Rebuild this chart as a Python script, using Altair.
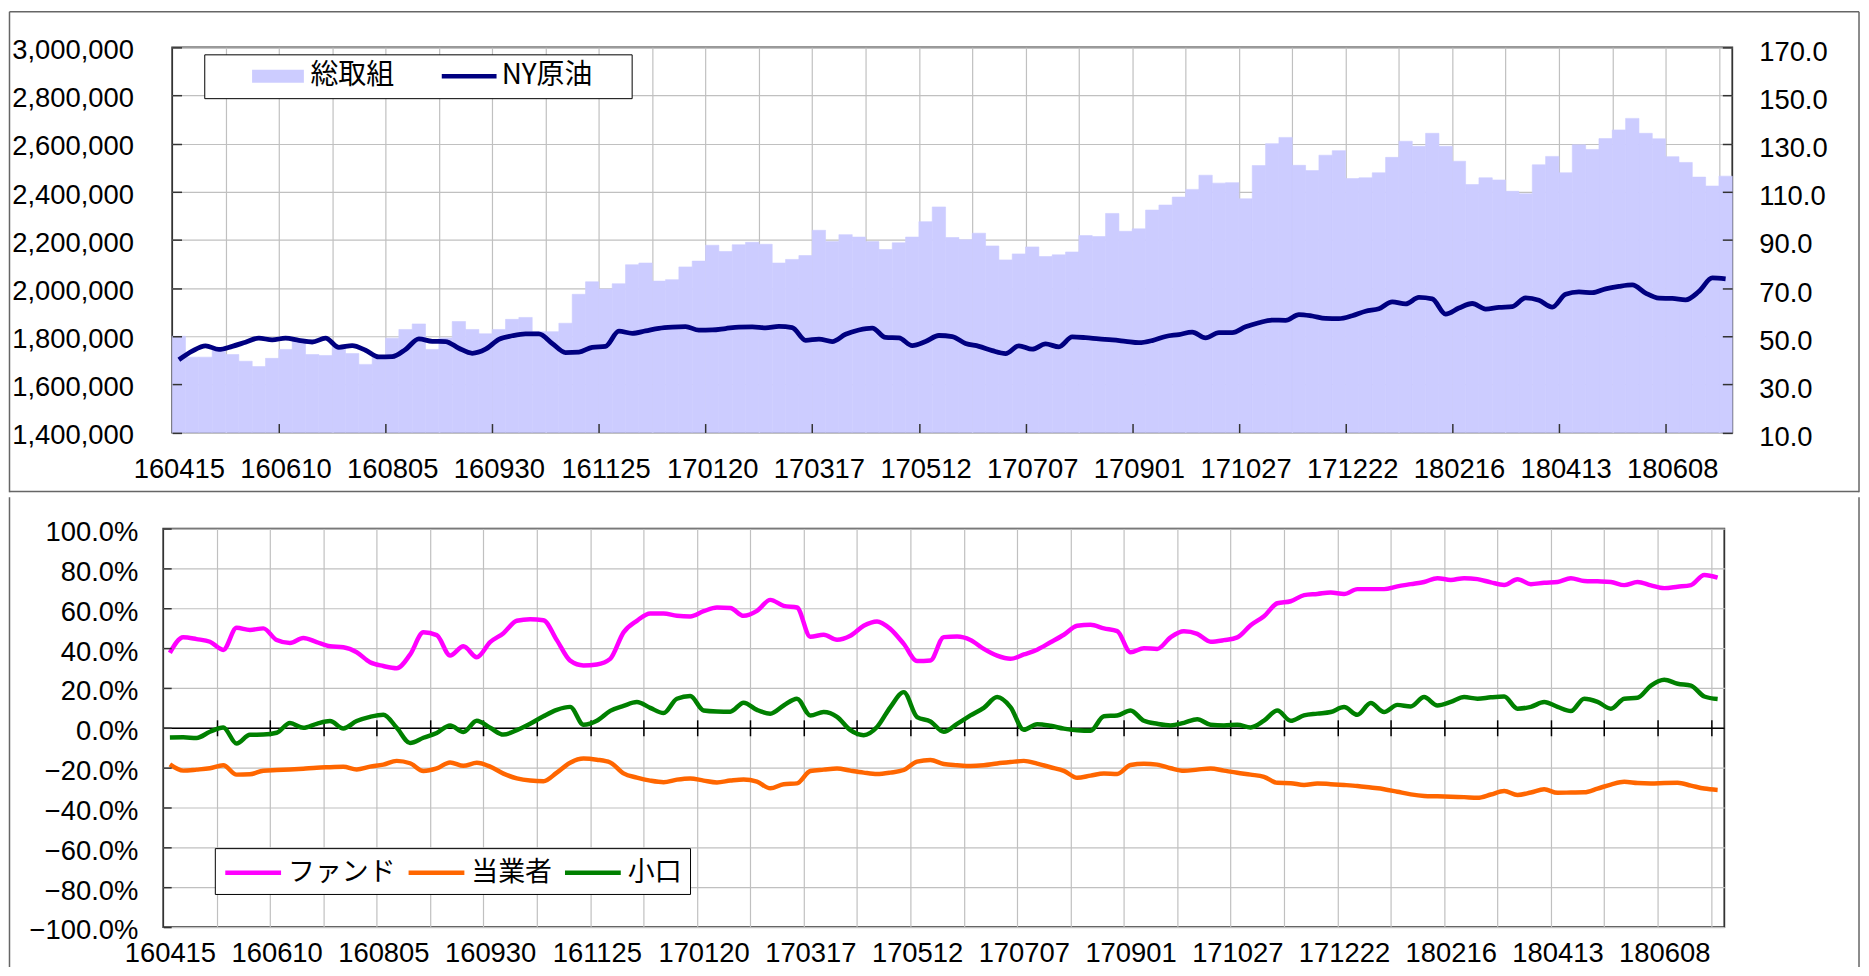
import json
import altair as alt
import pandas as pd

# ---------------- data ----------------
tick_labels = ["160415", "160610", "160805", "160930", "161125", "170120", "170317",
               "170512", "170707", "170901", "171027", "171222", "180216", "180413", "180608"]

total_oi = [
    1800000, 1713000, 1713000, 1746000, 1724000, 1696000, 1674000, 1708000, 1745000, 1779000,
    1724000, 1720000, 1757000, 1728000, 1683000, 1716000, 1792000, 1828000, 1851000, 1745000,
    1793000, 1861000, 1828000, 1810000, 1828000, 1870000, 1878000, 1819000, 1819000, 1854000,
    1974000, 2026000, 1996000, 2018000, 2097000, 2104000, 2029000, 2035000, 2088000, 2112000,
    2178000, 2152000, 2180000, 2190000, 2182000, 2104000, 2119000, 2135000, 2240000, 2193000,
    2222000, 2212000, 2193000, 2160000, 2188000, 2212000, 2276000, 2337000, 2210000, 2201000,
    2228000, 2175000, 2117000, 2142000, 2171000, 2131000, 2138000, 2150000, 2218000, 2214000,
    2310000, 2236000, 2246000, 2324000, 2345000, 2378000, 2410000, 2469000, 2436000, 2438000,
    2371000, 2509000, 2600000, 2626000, 2510000, 2488000, 2552000, 2571000, 2455000, 2458000,
    2479000, 2543000, 2610000, 2589000, 2643000, 2589000, 2527000, 2430000, 2458000, 2449000,
    2402000, 2392000, 2512000, 2547000, 2479000, 2595000, 2576000, 2621000, 2657000, 2705000,
    2643000, 2620000, 2546000, 2522000, 2461000, 2424000, 2465000]

ny_crude = [
    40.2, 43.8, 46.0, 44.5, 45.8, 47.5, 49.2, 48.5, 49.2, 48.3,
    47.6, 49.2, 45.4, 46.1, 44.2, 41.4, 41.5, 44.5, 48.9, 47.9,
    47.8, 45.0, 42.9, 44.6, 48.7, 50.2, 51.0, 51.0, 47.0, 43.2,
    43.4, 45.4, 45.8, 52.1, 51.2, 52.2, 53.3, 53.8, 54.0, 52.5,
    52.6, 53.2, 53.8, 53.9, 53.5, 54.1, 53.6, 48.3, 48.8, 47.8,
    50.8, 52.6, 53.4, 49.5, 49.3, 46.1, 47.8, 50.3, 49.8, 47.0,
    45.8, 44.0, 42.8, 46.0, 44.6, 46.8, 45.6, 49.7, 49.4, 48.9,
    48.5, 47.9, 47.3, 48.2, 49.9, 50.7, 51.7, 49.3, 51.5, 51.5,
    53.9, 55.6, 56.7, 56.6, 59.0, 58.4, 57.4, 57.3, 58.5, 60.4,
    61.4, 64.3, 63.4, 66.1, 65.5, 59.2, 61.7, 63.6, 61.3, 62.0,
    62.3, 65.9, 64.9, 62.1, 67.4, 68.4, 68.1, 69.7, 70.7, 71.3,
    67.9, 65.8, 65.7, 65.1, 68.6, 74.2, 73.8]

fund = [
    37.6, 45.4, 44.5, 43.2, 39.1, 50.2, 49.1, 49.9, 44.1, 42.6,
    45.1, 43.0, 40.9, 40.4, 37.9, 32.9, 31.0, 29.9, 36.7, 47.9,
    46.5, 36.3, 40.9, 35.4, 43.0, 47.5, 53.7, 54.5, 54.0, 44.0,
    33.7, 31.3, 31.8, 34.6, 47.9, 53.7, 57.4, 57.4, 56.2, 55.9,
    58.5, 60.4, 60.1, 56.2, 58.7, 64.2, 61.2, 60.4, 45.7, 46.7,
    44.2, 46.2, 51.2, 53.4, 49.6, 42.1, 33.5, 33.8, 45.5, 45.8,
    44.1, 39.6, 36.2, 34.6, 36.8, 39.2, 42.9, 46.7, 51.2, 51.7,
    49.9, 48.5, 37.9, 39.9, 39.6, 45.4, 48.4, 47.1, 43.2, 44.0,
    45.4, 51.5, 56.0, 62.5, 63.5, 66.6, 67.2, 67.9, 67.1, 69.6,
    69.6, 69.6, 71.0, 72.1, 73.2, 75.1, 74.2, 75.1, 74.6, 73.0,
    71.7, 74.6, 72.1, 72.8, 73.2, 75.1, 73.7, 73.5, 73.2, 71.6,
    73.2, 71.5, 70.1, 70.8, 71.6, 76.7, 75.4]

commercial = [
    -18.4, -21.5, -21.0, -20.3, -18.8, -23.5, -23.3, -21.6, -21.2, -20.9,
    -20.5, -20.0, -19.8, -19.6, -20.9, -19.5, -18.5, -16.6, -17.8, -21.7,
    -20.4, -17.4, -19.1, -17.6, -19.5, -23.0, -25.4, -26.5, -26.8, -22.5,
    -17.5, -15.4, -16.0, -17.4, -22.9, -25.0, -26.5, -27.3, -26.0, -25.4,
    -26.5, -27.4, -26.5, -25.9, -27.0, -30.4, -28.3, -27.9, -21.7, -21.0,
    -20.4, -21.5, -22.5, -23.2, -22.5, -21.2, -17.0, -16.2, -18.2, -18.8,
    -19.2, -18.8, -17.9, -17.2, -16.6, -18.0, -19.8, -21.6, -25.1, -24.0,
    -22.9, -23.2, -18.7, -18.0, -18.5, -20.3, -21.6, -21.0, -20.4, -21.5,
    -22.6, -23.5, -24.6, -27.6, -27.8, -28.7, -27.9, -28.3, -28.7, -29.2,
    -30.0, -30.8, -32.1, -33.4, -34.2, -34.4, -34.6, -34.8, -35.1, -33.5,
    -31.7, -33.7, -32.5, -30.9, -32.6, -32.5, -32.4, -30.5, -28.5, -27.1,
    -27.7, -27.9, -27.7, -27.6, -29.0, -30.5, -31.2]

small_lot = [
    -4.9, -4.8, -5.1, -2.0, 0.2, -7.9, -3.5, -3.4, -2.5, 2.4,
    0.0, 2.0, 3.4, -0.3, 3.4, 5.5, 6.6, 0.0, -7.6, -5.0,
    -2.6, 1.2, -2.1, 3.5, 0.0, -3.4, -1.2, 2.0, 5.8, 9.0,
    10.5, 1.5, 3.5, 8.5, 11.0, 12.9, 10.0, 7.4, 14.6, 16.0,
    8.7, 8.2, 8.1, 12.6, 9.0, 7.1, 11.2, 14.6, 6.2, 7.9,
    5.5, -1.2, -3.7, 0.4, 10.4, 17.9, 5.4, 3.2, -2.0, 2.0,
    6.2, 10.0, 15.4, 10.4, -1.0, 1.8, 1.0, -0.4, -1.2, -1.5,
    5.8, 6.2, 8.7, 3.5, 2.0, 1.2, 2.5, 4.3, 1.5, 1.2,
    1.5, 0.2, 3.6, 8.7, 3.5, 6.2, 7.1, 7.9, 10.4, 6.5,
    12.4, 7.9, 11.5, 10.7, 15.4, 11.2, 13.0, 15.4, 14.6, 15.3,
    15.7, 9.6, 10.5, 12.9, 10.5, 8.4, 14.6, 13.0, 9.6, 14.6,
    15.1, 21.2, 24.1, 22.1, 21.2, 15.7, 14.4]

top_series = ["総取組", "NY原油"]
top_colors = ["#ccccff", "#000080"]
bottom_series = ["ファンド", "当業者", "小口"]
bottom_colors = ["#ff00ff", "#ff6600", "#008000"]

n = len(total_oi)
df = pd.DataFrame({
    "i": list(range(n)),
    "総取組": total_oi,
    "NY原油": ny_crude,
    "ファンド": fund,
    "当業者": commercial,
    "小口": small_lot,
})

# ---------------- styling ----------------
FONT = "Liberation Sans"
JFONT = "Noto Sans CJK JP"
FS = 27.5
GRID = "#c0c0c0"
TICK = "#333333"
FRAME = "#666666"

W_TOP, H_TOP = 1566, 386.6
W_BOT, H_BOT = 1567, 400

label_vals = [0.5 + 8 * k for k in range(len(tick_labels))]
grid_vals = [4 * k for k in range(1, n // 4 + 1)]
tick8_vals = [8 * k for k in range(1, len(tick_labels))]
oi_vals = list(range(1400000, 3000001, 200000))
ny_vals = list(range(10, 171, 20))
pct_vals = list(range(-100, 101, 20))
label_expr = json.dumps(tick_labels) + "[round((datum.value - 0.5) / 8)]"

xs = alt.Scale(domain=[0, n], nice=False, zero=False)
oi_scale = alt.Scale(domain=[1400000, 3000000], nice=False, zero=False)
ny_scale = alt.Scale(domain=[10, 170], nice=False, zero=False)
pct_scale = alt.Scale(domain=[-100, 100], nice=False, zero=False)

# legend symbols (nominal symbol size 28px, i.e. unit = 14px):
# a filled block for the bars, a thin bar for the line, a stroke for the lower lines
SYM_SIZE = 784
SYM_RECT = "M-1.857,-0.464H1.857V0.464H-1.857Z"
SYM_LINE = "M-1.964,-0.164H1.964V0.164H-1.964Z"
SYM_STROKE = "M-2,0H2"


def ax(**kw):
    base = dict(title=None, labels=False, ticks=False, grid=False, domain=False)
    base.update(kw)
    return alt.Axis(**base)


one = alt.Data(values=[{"k": 0}])


def hrule(x1, x2, y):
    return alt.Chart(one).mark_rule(color=FRAME, strokeWidth=1.5).encode(
        x=alt.value(x1), x2=alt.value(x2), y=alt.value(y))


def vrule(x, y1, y2):
    return alt.Chart(one).mark_rule(color=FRAME, strokeWidth=1.5).encode(
        x=alt.value(x), y=alt.value(y1), y2=alt.value(y2))


# (the upper legend is laid out in the row group, which starts 9px left of the plot)
top_legend = alt.Legend(
    orient="none", legendX=41.2, legendY=7, direction="horizontal",
    title="総", titleOpacity=0, titleOrient="right", titleFont=JFONT, titleFontSize=28,
    titlePadding=2,
    labelFont=JFONT, labelFontSize=28, labelColor="black",
    symbolSize=SYM_SIZE, symbolOffset=52, labelOffset=18.6, columnPadding=8.9,
    padding=8, strokeColor="black", fillColor="white",
    symbolOpacity=1, symbolStrokeWidth=0,
)

bottom_legend = alt.Legend(
    orient="none", legendX=51.8, legendY=320.8, direction="horizontal", title=None,
    labelFont=JFONT, labelFontSize=27, labelColor="black",
    symbolType=SYM_STROKE, symbolSize=SYM_SIZE, symbolOffset=14, labelOffset=18.5,
    symbolStrokeWidth=4.5, columnPadding=3,
    padding=8, strokeColor="black", fillColor="white",
)

# ---------------- top panel ----------------
top_base = alt.Chart(df).transform_calculate(
    x0="datum.i", x1="datum.i + 1", xc="datum.i + 0.5")

bars = top_base.mark_rect(color=top_colors[0], stroke=top_colors[0], strokeWidth=0.6).encode(
    x=alt.X("x0:Q", scale=xs, axis=ax(orient="bottom", values=grid_vals, grid=True,
                                       gridColor=GRID, gridWidth=1.2)),
    x2="x1:Q",
    y=alt.Y("総取組:Q", scale=oi_scale,
            axis=ax(orient="left", values=oi_vals, grid=True, gridColor=GRID, gridWidth=1.2,
                    labels=True, format=",d", labelPadding=38.8, labelOffset=3.3)),
    y2=alt.Y2Datum(1400000),
)

top_ticks_left = top_base.mark_point(opacity=0).encode(
    x=alt.X("xc:Q", scale=xs, axis=ax(orient="bottom", values=tick8_vals, ticks=True,
                                       tickSize=9, tickWidth=1.5, tickColor=TICK, offset=-9, zindex=1)),
    y=alt.Y("総取組:Q", scale=oi_scale,
            axis=ax(orient="left", values=oi_vals, ticks=True, tickSize=9.4, tickWidth=1.5,
                    tickColor=TICK, offset=-9.4, zindex=1)),
)

top_ticks_right = top_base.mark_point(opacity=0).encode(
    x=alt.X("xc:Q", scale=xs, axis=None),
    y=alt.Y("NY原油:Q", scale=ny_scale,
            axis=ax(orient="right", values=ny_vals, ticks=True, tickSize=10, tickWidth=1.5,
                    tickColor=TICK, offset=-10, zindex=1)),
)

ny_line = top_base.mark_line(color=top_colors[1], strokeWidth=4.8, interpolate="monotone").encode(
    x=alt.X("xc:Q", scale=xs, axis=ax(orient="bottom", values=label_vals, labels=True,
                                       labelExpr=label_expr, labelPadding=23.5)),
    y=alt.Y("NY原油:Q", scale=ny_scale,
            axis=ax(orient="right", values=ny_vals, labels=True, format=".1f",
                    labelPadding=26.5, labelOffset=5)),
)

# legend key layer: tiny symbols hidden beneath the (opaque) legend box
legend_key = alt.Chart(alt.Data(values=[{"s": s} for s in top_series])).mark_point(
    filled=True, size=1).encode(
    x=alt.value(120), y=alt.value(22),
    color=alt.Color("s:N", scale=alt.Scale(domain=top_series, range=top_colors), legend=top_legend),
    shape=alt.Shape("s:N", scale=alt.Scale(domain=top_series, range=[SYM_RECT, SYM_LINE]),
                    legend=top_legend),
)

top_frame = [
    hrule(-163.3, 1693.2, -35.7),
    hrule(-163.3, 1693.2, 445.8),
    vrule(-163.3, -35.7, 446.5),
    vrule(1693.2, -35.7, 446.5),
]

top = alt.layer(bars, top_ticks_left, top_ticks_right, ny_line, legend_key, *top_frame).resolve_scale(
    y="independent").resolve_axis(x="independent", y="independent").properties(
    width=W_TOP, height=H_TOP)

# a 9px spacer shifts the upper plot right of the lower one, as in the original
spacer = alt.Chart(one).mark_point(opacity=0, size=1).encode(
    x=alt.value(0), y=alt.value(0)).properties(
    width=9, height=1, view=alt.ViewBackground(stroke="transparent"))

top_row = alt.hconcat(spacer, top, spacing=0, bounds="flush")

# ---------------- bottom panel ----------------
bot_base = alt.Chart(df).transform_calculate(xc="datum.i + 0.5")

bot_grid = bot_base.mark_point(opacity=0).encode(
    x=alt.X("xc:Q", scale=xs, axis=ax(orient="bottom", values=grid_vals, grid=True,
                                       gridColor=GRID, gridWidth=1.2)),
    y=alt.Y("ファンド:Q", scale=pct_scale,
            axis=ax(orient="left", values=pct_vals, grid=True, gridColor=GRID, gridWidth=1.2,
                    labels=True, labelExpr="format(datum.value, '.1f') + '%'",
                    labelPadding=25.4, labelOffset=4)),
)

bot_zero = bot_base.mark_point(opacity=0).encode(
    x=alt.X("xc:Q", scale=xs, axis=ax(orient="bottom", domain=True, domainColor="black",
                                       domainWidth=1.5, offset=-200)),
    y=alt.Y("ファンド:Q", scale=pct_scale,
            axis=ax(orient="left", values=pct_vals, ticks=True, tickSize=8, tickWidth=1.5,
                    tickColor=TICK, offset=-8, zindex=1)),
)

bot_cross = bot_base.mark_point(opacity=0).encode(
    x=alt.X("xc:Q", scale=xs, axis=ax(orient="bottom", values=grid_vals, ticks=True,
                                       tickSize=16, tickWidth=1.5, tickColor="black", offset=-208)),
    y=alt.Y("ファンド:Q", scale=pct_scale, axis=None),
)

bot_lines = bot_base.transform_fold(bottom_series, as_=["series", "pct"]).mark_line(
    strokeWidth=4.5, interpolate="monotone").encode(
    x=alt.X("xc:Q", scale=xs, axis=ax(orient="bottom", values=label_vals, labels=True,
                                       labelExpr=label_expr, labelPadding=12.5)),
    y=alt.Y("pct:Q", scale=pct_scale, axis=None),
    color=alt.Color("series:N", scale=alt.Scale(domain=bottom_series, range=bottom_colors),
                    legend=bottom_legend),
)

bot_frame = [
    vrule(-154.3, -31.5, 440),
    vrule(1702.2, -31.5, 440),
]

bottom = alt.layer(bot_grid, bot_zero, bot_cross, bot_lines, *bot_frame).resolve_axis(
    x="independent", y="independent").properties(width=W_BOT, height=H_BOT)

# fixed-size canvas: the padding places the upper plot at its spot on the page
chart = alt.vconcat(top_row, bottom, spacing=0).resolve_scale(
    color="independent", shape="independent"
).resolve_legend(
    color="independent", shape="independent"
).properties(
    autosize=alt.AutoSizeParams(type="none"),
    padding={"left": 155.8, "top": 37.7, "right": 1704.2, "bottom": 922.3},
).configure(font=FONT).configure_view(
    stroke="#333333", strokeWidth=1.8
).configure_axis(
    labelFont=FONT, labelFontSize=FS, labelColor="black", labelFlush=False,
    labelOverlap=False, labelBound=False
)

chart.save("out.html", embed_options={"renderer": "svg", "actions": False})
